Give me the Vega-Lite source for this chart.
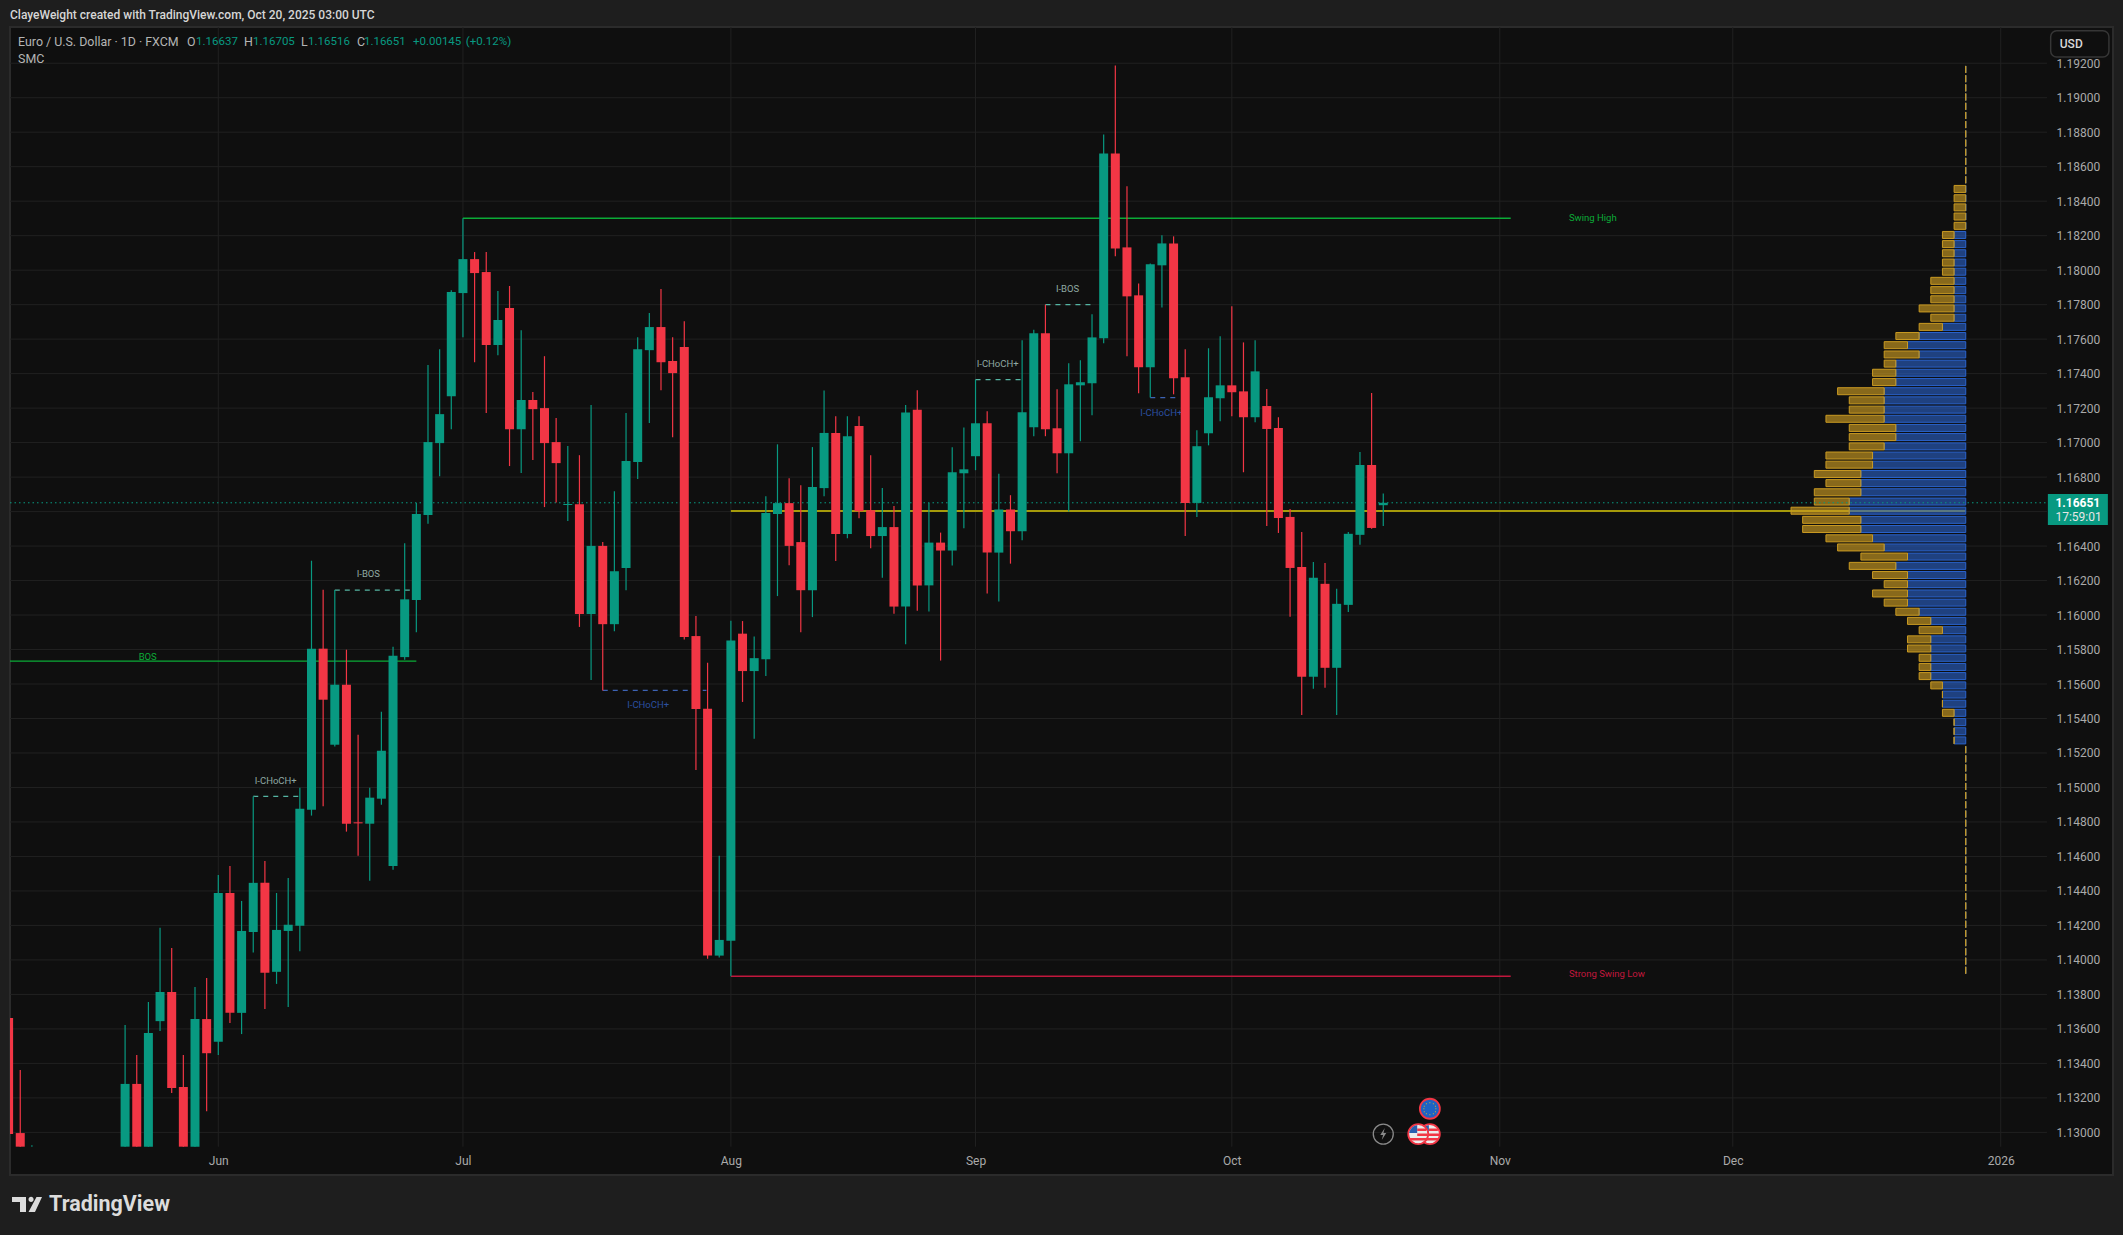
{
  "$schema": "https://vega.github.io/schema/vega-lite/v6.json",
  "autosize": "none",
  "width": 2103,
  "height": 1148,
  "padding": {"left": 10, "top": 27, "right": 10, "bottom": 60},
  "background": "#1e1e1e",
  "config": {
    "view": {"fill": "#0f0f0f", "stroke": "#2b2b2b", "strokeWidth": 2},
    "scale": {"continuousPadding": 0},
    "text": {"font": "Roboto"}
  },
  "datasets": {
    "gridPrices": [
      {"price":1.130},{"price":1.132},{"price":1.134},{"price":1.136},{"price":1.138},{"price":1.140},{"price":1.142},{"price":1.144},
      {"price":1.146},{"price":1.148},{"price":1.150},{"price":1.152},{"price":1.154},{"price":1.156},{"price":1.158},{"price":1.160},
      {"price":1.162},{"price":1.164},{"price":1.166},{"price":1.168},{"price":1.170},{"price":1.172},{"price":1.174},{"price":1.176},
      {"price":1.178},{"price":1.180},{"price":1.182},{"price":1.184},{"price":1.186},{"price":1.188},{"price":1.190},{"price":1.192}
    ],
    "gridBars": [{"bar":0},{"bar":21},{"bar":44},{"bar":65},{"bar":87},{"bar":110},{"bar":130},{"bar":153}],
    "candles": [
      {"bar":-18,"open":1.13663,"high":1.13663,"low":1.1299,"close":1.1299,"tone":"down"},
      {"bar":-17,"open":1.12996,"high":1.13362,"low":1.12917,"close":1.12917,"tone":"down"},
      {"bar":-16,"open":1.12917,"high":1.12925,"low":1.12917,"close":1.12917,"tone":"up"},
      {"bar":-8,"open":1.12917,"high":1.13622,"low":1.12917,"close":1.13281,"tone":"up"},
      {"bar":-7,"open":1.13281,"high":1.13449,"low":1.12917,"close":1.12917,"tone":"down"},
      {"bar":-6,"open":1.12917,"high":1.13756,"low":1.12917,"close":1.13576,"tone":"up"},
      {"bar":-5,"open":1.13645,"high":1.14186,"low":1.13588,"close":1.13814,"tone":"up"},
      {"bar":-4,"open":1.13814,"high":1.14069,"low":1.13228,"close":1.13257,"tone":"down"},
      {"bar":-3,"open":1.13263,"high":1.13449,"low":1.12917,"close":1.12917,"tone":"down"},
      {"bar":-2,"open":1.12917,"high":1.13843,"low":1.12917,"close":1.13657,"tone":"up"},
      {"bar":-1,"open":1.13657,"high":1.13895,"low":1.13123,"close":1.13459,"tone":"down"},
      {"bar":0,"open":1.13525,"high":1.14493,"low":1.13449,"close":1.14388,"tone":"up"},
      {"bar":1,"open":1.14388,"high":1.14544,"low":1.13634,"close":1.13693,"tone":"down"},
      {"bar":2,"open":1.13693,"high":1.14342,"low":1.1357,"close":1.14168,"tone":"up"},
      {"bar":3,"open":1.14162,"high":1.14948,"low":1.14043,"close":1.14447,"tone":"up"},
      {"bar":4,"open":1.14447,"high":1.14574,"low":1.13715,"close":1.13925,"tone":"down"},
      {"bar":5,"open":1.13931,"high":1.14388,"low":1.13861,"close":1.14174,"tone":"up"},
      {"bar":6,"open":1.14168,"high":1.14475,"low":1.13727,"close":1.14204,"tone":"up"},
      {"bar":7,"open":1.14198,"high":1.14998,"low":1.14051,"close":1.14877,"tone":"up"},
      {"bar":8,"open":1.14871,"high":1.16315,"low":1.14837,"close":1.15805,"tone":"up"},
      {"bar":9,"open":1.15805,"high":1.16147,"low":1.14891,"close":1.15509,"tone":"down"},
      {"bar":10,"open":1.15248,"high":1.16145,"low":1.15237,"close":1.15596,"tone":"up"},
      {"bar":11,"open":1.15596,"high":1.15799,"low":1.14744,"close":1.1479,"tone":"down"},
      {"bar":12,"open":1.14798,"high":1.15306,"low":1.14604,"close":1.14792,"tone":"down"},
      {"bar":13,"open":1.1479,"high":1.14999,"low":1.14459,"close":1.14941,"tone":"up"},
      {"bar":14,"open":1.14935,"high":1.15439,"low":1.149,"close":1.15213,"tone":"up"},
      {"bar":15,"open":1.14544,"high":1.15816,"low":1.14523,"close":1.15764,"tone":"up"},
      {"bar":16,"open":1.15756,"high":1.16417,"low":1.15741,"close":1.16091,"tone":"up"},
      {"bar":17,"open":1.16087,"high":1.16649,"low":1.159,"close":1.16586,"tone":"up"},
      {"bar":18,"open":1.1658,"high":1.1745,"low":1.16529,"close":1.17003,"tone":"up"},
      {"bar":19,"open":1.16997,"high":1.17542,"low":1.16805,"close":1.17165,"tone":"up"},
      {"bar":20,"open":1.17269,"high":1.17883,"low":1.17078,"close":1.17873,"tone":"up"},
      {"bar":21,"open":1.17867,"high":1.18301,"low":1.17611,"close":1.18064,"tone":"up"},
      {"bar":22,"open":1.18064,"high":1.18105,"low":1.17466,"close":1.17983,"tone":"down"},
      {"bar":23,"open":1.17989,"high":1.18105,"low":1.17172,"close":1.17566,"tone":"down"},
      {"bar":24,"open":1.17566,"high":1.17879,"low":1.17507,"close":1.17711,"tone":"up"},
      {"bar":25,"open":1.1778,"high":1.17908,"low":1.16864,"close":1.17078,"tone":"down"},
      {"bar":26,"open":1.17078,"high":1.17652,"low":1.16824,"close":1.17247,"tone":"up"},
      {"bar":27,"open":1.17247,"high":1.17294,"low":1.16899,"close":1.17194,"tone":"down"},
      {"bar":28,"open":1.172,"high":1.17501,"low":1.16626,"close":1.16997,"tone":"down"},
      {"bar":29,"open":1.17003,"high":1.17143,"low":1.16653,"close":1.16881,"tone":"down"},
      {"bar":30,"open":1.16638,"high":1.1698,"low":1.16545,"close":1.16644,"tone":"up"},
      {"bar":31,"open":1.16643,"high":1.16927,"low":1.15931,"close":1.16006,"tone":"down"},
      {"bar":32,"open":1.16006,"high":1.17218,"low":1.15624,"close":1.16401,"tone":"up"},
      {"bar":33,"open":1.16401,"high":1.16423,"low":1.15563,"close":1.15947,"tone":"down"},
      {"bar":34,"open":1.15947,"high":1.16718,"low":1.15906,"close":1.16254,"tone":"up"},
      {"bar":35,"open":1.16273,"high":1.17172,"low":1.16144,"close":1.16893,"tone":"up"},
      {"bar":36,"open":1.16887,"high":1.17611,"low":1.16789,"close":1.17542,"tone":"up"},
      {"bar":37,"open":1.17536,"high":1.17751,"low":1.17113,"close":1.1767,"tone":"up"},
      {"bar":38,"open":1.1767,"high":1.1789,"low":1.17304,"close":1.17466,"tone":"down"},
      {"bar":39,"open":1.17473,"high":1.17611,"low":1.17031,"close":1.17403,"tone":"down"},
      {"bar":40,"open":1.17554,"high":1.17704,"low":1.15858,"close":1.15872,"tone":"down"},
      {"bar":41,"open":1.15878,"high":1.15994,"low":1.15101,"close":1.15455,"tone":"down"},
      {"bar":42,"open":1.15457,"high":1.15723,"low":1.14007,"close":1.14025,"tone":"down"},
      {"bar":43,"open":1.14025,"high":1.14604,"low":1.14014,"close":1.14116,"tone":"up"},
      {"bar":44,"open":1.14111,"high":1.15967,"low":1.13905,"close":1.15852,"tone":"up"},
      {"bar":45,"open":1.15892,"high":1.15965,"low":1.15496,"close":1.15675,"tone":"down"},
      {"bar":46,"open":1.15675,"high":1.15876,"low":1.15282,"close":1.1575,"tone":"up"},
      {"bar":47,"open":1.15744,"high":1.16689,"low":1.15646,"close":1.16592,"tone":"up"},
      {"bar":48,"open":1.16586,"high":1.1699,"low":1.1611,"close":1.16649,"tone":"up"},
      {"bar":49,"open":1.16649,"high":1.16793,"low":1.16289,"close":1.16401,"tone":"down"},
      {"bar":50,"open":1.16423,"high":1.16753,"low":1.159,"close":1.16144,"tone":"down"},
      {"bar":51,"open":1.16144,"high":1.16974,"low":1.15988,"close":1.16742,"tone":"up"},
      {"bar":52,"open":1.16736,"high":1.17302,"low":1.16689,"close":1.17056,"tone":"up"},
      {"bar":53,"open":1.17056,"high":1.17153,"low":1.16313,"close":1.1647,"tone":"down"},
      {"bar":54,"open":1.1647,"high":1.17153,"low":1.16445,"close":1.17037,"tone":"up"},
      {"bar":55,"open":1.17096,"high":1.17153,"low":1.16561,"close":1.16602,"tone":"down"},
      {"bar":56,"open":1.16608,"high":1.16927,"low":1.16388,"close":1.16458,"tone":"down"},
      {"bar":57,"open":1.16458,"high":1.16736,"low":1.16216,"close":1.1651,"tone":"up"},
      {"bar":58,"open":1.1651,"high":1.16633,"low":1.16007,"close":1.16049,"tone":"down"},
      {"bar":59,"open":1.16049,"high":1.17218,"low":1.1583,"close":1.17175,"tone":"up"},
      {"bar":60,"open":1.1719,"high":1.17304,"low":1.16025,"close":1.16172,"tone":"down"},
      {"bar":61,"open":1.16172,"high":1.16649,"low":1.16021,"close":1.1642,"tone":"up"},
      {"bar":62,"open":1.1642,"high":1.16478,"low":1.15736,"close":1.16374,"tone":"down"},
      {"bar":63,"open":1.16374,"high":1.16973,"low":1.16287,"close":1.16828,"tone":"up"},
      {"bar":64,"open":1.16822,"high":1.17087,"low":1.16503,"close":1.16845,"tone":"up"},
      {"bar":65,"open":1.16921,"high":1.17365,"low":1.1684,"close":1.17112,"tone":"up"},
      {"bar":66,"open":1.17112,"high":1.17182,"low":1.16125,"close":1.16362,"tone":"down"},
      {"bar":67,"open":1.16362,"high":1.1682,"low":1.16078,"close":1.16612,"tone":"up"},
      {"bar":68,"open":1.16612,"high":1.16695,"low":1.16298,"close":1.16486,"tone":"down"},
      {"bar":69,"open":1.16486,"high":1.17593,"low":1.16434,"close":1.17176,"tone":"up"},
      {"bar":70,"open":1.17089,"high":1.17655,"low":1.17037,"close":1.17634,"tone":"up"},
      {"bar":71,"open":1.17634,"high":1.178,"low":1.17037,"close":1.17077,"tone":"down"},
      {"bar":72,"open":1.17083,"high":1.17309,"low":1.16822,"close":1.16938,"tone":"down"},
      {"bar":73,"open":1.16938,"high":1.1746,"low":1.166,"close":1.17338,"tone":"up"},
      {"bar":74,"open":1.17332,"high":1.17477,"low":1.17008,"close":1.1735,"tone":"up"},
      {"bar":75,"open":1.17344,"high":1.17744,"low":1.17158,"close":1.1761,"tone":"up"},
      {"bar":76,"open":1.17605,"high":1.18787,"low":1.17576,"close":1.18677,"tone":"up"},
      {"bar":77,"open":1.18677,"high":1.19187,"low":1.1808,"close":1.18126,"tone":"down"},
      {"bar":78,"open":1.18132,"high":1.18486,"low":1.175,"close":1.17848,"tone":"down"},
      {"bar":79,"open":1.17854,"high":1.17923,"low":1.17286,"close":1.17437,"tone":"down"},
      {"bar":80,"open":1.17437,"high":1.18039,"low":1.17261,"close":1.18034,"tone":"up"},
      {"bar":81,"open":1.18028,"high":1.18202,"low":1.17784,"close":1.18155,"tone":"up"},
      {"bar":82,"open":1.18155,"high":1.18196,"low":1.1728,"close":1.17373,"tone":"down"},
      {"bar":83,"open":1.17379,"high":1.17541,"low":1.16459,"close":1.1665,"tone":"down"},
      {"bar":84,"open":1.1665,"high":1.17071,"low":1.16569,"close":1.16979,"tone":"up"},
      {"bar":85,"open":1.17054,"high":1.17547,"low":1.16984,"close":1.17263,"tone":"up"},
      {"bar":86,"open":1.17257,"high":1.17616,"low":1.17124,"close":1.17332,"tone":"up"},
      {"bar":87,"open":1.17332,"high":1.1779,"low":1.17153,"close":1.17292,"tone":"down"},
      {"bar":88,"open":1.17297,"high":1.17581,"low":1.16828,"close":1.17147,"tone":"down"},
      {"bar":89,"open":1.17147,"high":1.17593,"low":1.17118,"close":1.17413,"tone":"up"},
      {"bar":90,"open":1.17212,"high":1.17311,"low":1.16517,"close":1.17079,"tone":"down"},
      {"bar":91,"open":1.17085,"high":1.17147,"low":1.16476,"close":1.16563,"tone":"down"},
      {"bar":92,"open":1.16569,"high":1.16615,"low":1.1599,"close":1.16273,"tone":"down"},
      {"bar":93,"open":1.16279,"high":1.16482,"low":1.15421,"close":1.15642,"tone":"down"},
      {"bar":94,"open":1.15642,"high":1.16308,"low":1.15572,"close":1.16216,"tone":"up"},
      {"bar":95,"open":1.16181,"high":1.16302,"low":1.15578,"close":1.15694,"tone":"down"},
      {"bar":96,"open":1.15694,"high":1.16152,"low":1.15421,"close":1.16065,"tone":"up"},
      {"bar":97,"open":1.16059,"high":1.16482,"low":1.16018,"close":1.16471,"tone":"up"},
      {"bar":98,"open":1.16465,"high":1.16946,"low":1.16407,"close":1.1687,"tone":"up"},
      {"bar":99,"open":1.1687,"high":1.17288,"low":1.165,"close":1.16505,"tone":"down"},
      {"bar":100,"open":1.16637,"high":1.16705,"low":1.16516,"close":1.16651,"tone":"up"}
    ],
    "profile": [
      {"level":1.19164,"gold_left":150,"blue_left":150},{"level":1.1911,"gold_left":150,"blue_left":150},{"level":1.19057,"gold_left":150,"blue_left":150},
      {"level":1.19004,"gold_left":150,"blue_left":150},{"level":1.1895,"gold_left":150,"blue_left":150},{"level":1.18897,"gold_left":150,"blue_left":150},
      {"level":1.18844,"gold_left":150,"blue_left":150},{"level":1.1879,"gold_left":150,"blue_left":150},{"level":1.18737,"gold_left":150,"blue_left":150},
      {"level":1.18684,"gold_left":150,"blue_left":150},{"level":1.18631,"gold_left":150,"blue_left":150},{"level":1.18577,"gold_left":150,"blue_left":150},
      {"level":1.18524,"gold_left":150,"blue_left":150},{"level":1.18471,"gold_left":149,"blue_left":150},{"level":1.18417,"gold_left":149,"blue_left":150},
      {"level":1.18364,"gold_left":149,"blue_left":150},{"level":1.18311,"gold_left":149,"blue_left":150},{"level":1.18257,"gold_left":149,"blue_left":150},
      {"level":1.18204,"gold_left":148,"blue_left":149},{"level":1.18151,"gold_left":148,"blue_left":149},{"level":1.18098,"gold_left":148,"blue_left":149},
      {"level":1.18044,"gold_left":148,"blue_left":149},{"level":1.17991,"gold_left":148,"blue_left":149},{"level":1.17938,"gold_left":147,"blue_left":149},
      {"level":1.17884,"gold_left":147,"blue_left":149},{"level":1.17831,"gold_left":147,"blue_left":149},{"level":1.17778,"gold_left":146,"blue_left":149},
      {"level":1.17724,"gold_left":147,"blue_left":149},{"level":1.17671,"gold_left":146,"blue_left":148},{"level":1.17618,"gold_left":144,"blue_left":146},
      {"level":1.17565,"gold_left":143,"blue_left":145},{"level":1.17511,"gold_left":143,"blue_left":146},{"level":1.17458,"gold_left":143,"blue_left":144},
      {"level":1.17405,"gold_left":142,"blue_left":144},{"level":1.17351,"gold_left":142,"blue_left":144},{"level":1.17298,"gold_left":139,"blue_left":143},
      {"level":1.17245,"gold_left":140,"blue_left":143},{"level":1.17191,"gold_left":140,"blue_left":143},{"level":1.17138,"gold_left":138,"blue_left":143},
      {"level":1.17085,"gold_left":140,"blue_left":144},{"level":1.17032,"gold_left":140,"blue_left":144},{"level":1.16978,"gold_left":140,"blue_left":143},
      {"level":1.16925,"gold_left":138,"blue_left":142},{"level":1.16872,"gold_left":138,"blue_left":142},{"level":1.16818,"gold_left":137,"blue_left":141},
      {"level":1.16765,"gold_left":138,"blue_left":141},{"level":1.16712,"gold_left":137,"blue_left":141},{"level":1.16658,"gold_left":137,"blue_left":140},
      {"level":1.16605,"gold_left":135,"blue_left":140},{"level":1.16552,"gold_left":136,"blue_left":141},{"level":1.16499,"gold_left":136,"blue_left":141},
      {"level":1.16445,"gold_left":138,"blue_left":142},{"level":1.16392,"gold_left":139,"blue_left":143},{"level":1.16339,"gold_left":141,"blue_left":145},
      {"level":1.16285,"gold_left":140,"blue_left":144},{"level":1.16232,"gold_left":142,"blue_left":145},{"level":1.16179,"gold_left":143,"blue_left":145},
      {"level":1.16125,"gold_left":142,"blue_left":145},{"level":1.16072,"gold_left":143,"blue_left":145},{"level":1.16019,"gold_left":144,"blue_left":146},
      {"level":1.15966,"gold_left":145,"blue_left":147},{"level":1.15912,"gold_left":146,"blue_left":148},{"level":1.15859,"gold_left":145,"blue_left":147},
      {"level":1.15806,"gold_left":145,"blue_left":147},{"level":1.15752,"gold_left":146,"blue_left":147},{"level":1.15699,"gold_left":146,"blue_left":147},
      {"level":1.15646,"gold_left":146,"blue_left":147},{"level":1.15592,"gold_left":147,"blue_left":148},{"level":1.15539,"gold_left":148,"blue_left":148},
      {"level":1.15486,"gold_left":148,"blue_left":148},{"level":1.15433,"gold_left":148,"blue_left":149},{"level":1.15379,"gold_left":149,"blue_left":149},
      {"level":1.15326,"gold_left":149,"blue_left":149},{"level":1.15273,"gold_left":149,"blue_left":149},{"level":1.15219,"gold_left":150,"blue_left":150},
      {"level":1.15166,"gold_left":150,"blue_left":150},{"level":1.15113,"gold_left":150,"blue_left":150},{"level":1.15059,"gold_left":150,"blue_left":150},
      {"level":1.15006,"gold_left":150,"blue_left":150},{"level":1.14953,"gold_left":150,"blue_left":150},{"level":1.149,"gold_left":150,"blue_left":150},
      {"level":1.14846,"gold_left":150,"blue_left":150},{"level":1.14793,"gold_left":150,"blue_left":150},{"level":1.1474,"gold_left":150,"blue_left":150},
      {"level":1.14686,"gold_left":150,"blue_left":150},{"level":1.14633,"gold_left":150,"blue_left":150},{"level":1.1458,"gold_left":150,"blue_left":150},
      {"level":1.14526,"gold_left":150,"blue_left":150},{"level":1.14473,"gold_left":150,"blue_left":150},{"level":1.1442,"gold_left":150,"blue_left":150},
      {"level":1.14367,"gold_left":150,"blue_left":150},{"level":1.14313,"gold_left":150,"blue_left":150},{"level":1.1426,"gold_left":150,"blue_left":150},
      {"level":1.14207,"gold_left":150,"blue_left":150},{"level":1.14153,"gold_left":150,"blue_left":150},{"level":1.141,"gold_left":150,"blue_left":150},
      {"level":1.14047,"gold_left":150,"blue_left":150},{"level":1.13993,"gold_left":150,"blue_left":150},{"level":1.1394,"gold_left":150,"blue_left":150}
    ],
    "solidLevels": [
      {"from":21,"to":110.94,"price":1.18301,"tone":"green"},
      {"from":44,"to":110.94,"price":1.13905,"tone":"crimson"},
      {"from":-17.88,"to":17,"price":1.15733,"tone":"green"}
    ],
    "dashedLevels": [
      {"from":3,"to":7.16,"price":1.14949,"tone":"teal"},
      {"from":10,"to":16.9,"price":1.16145,"tone":"teal"},
      {"from":33,"to":41.9,"price":1.15563,"tone":"blue"},
      {"from":65,"to":69.15,"price":1.17365,"tone":"teal"},
      {"from":71,"to":75.17,"price":1.178,"tone":"teal"},
      {"from":80,"to":82.27,"price":1.17261,"tone":"blue"}
    ],
    "centerNotes": [
      {"bar":-6.06,"price":1.15758,"label":"BOS","tone":"green"},
      {"bar":4.93,"price":1.15039,"label":"I-CHoCH+","tone":"grey"},
      {"bar":12.88,"price":1.16236,"label":"I-BOS","tone":"grey"},
      {"bar":36.9,"price":1.15476,"label":"I-CHoCH+","tone":"navy"},
      {"bar":66.9,"price":1.17454,"label":"I-CHoCH+","tone":"grey"},
      {"bar":72.9,"price":1.17892,"label":"I-BOS","tone":"grey"},
      {"bar":80.95,"price":1.17173,"label":"I-CHoCH+","tone":"navy"}
    ],
    "leftNotes": [
      {"bar":115.94,"price":1.18302,"label":"Swing High","tone":"green"},
      {"bar":115.94,"price":1.13921,"label":"Strong Swing Low","tone":"crimson"}
    ],
    "legendGrey": [
      {"bar":-17.19,"price":1.19323,"label":"Euro / U.S. Dollar · 1D · FXCM"},
      {"bar":-2.69,"price":1.19323,"label":"O"},
      {"bar":2.21,"price":1.19323,"label":"H"},
      {"bar":7.1,"price":1.19323,"label":"L"},
      {"bar":11.9,"price":1.19323,"label":"C"},
      {"bar":-17.19,"price":1.19224,"label":"SMC"}
    ],
    "legendTeal": [
      {"bar":-1.91,"price":1.19323,"label":"1.16637"},
      {"bar":2.98,"price":1.19323,"label":"1.16705"},
      {"bar":7.71,"price":1.19323,"label":"1.16516"},
      {"bar":12.5,"price":1.19323,"label":"1.16651"},
      {"bar":16.71,"price":1.19323,"label":"+0.00145"},
      {"bar":21.25,"price":1.19323,"label":"(+0.12%)"}
    ]
  },
  "layer": [
    {
      "data": {"name": "gridPrices"},
      "mark": {"type": "rule", "color": "#212121", "strokeWidth": 1},
      "encoding": {
        "x": {"datum": -17.88, "type": "quantitative", "title": null,
          "scale": {"domain": [-17.88, 162.64], "nice": false, "zero": false},
          "axis": {"orient": "bottom", "offset": -28, "domain": false, "ticks": false, "grid": false, "title": null,
            "values": [0, 21, 44, 65, 87, 110, 130, 153], "format": "d", "labelOverlap": false, "labelBound": false, "labelFlush": false,
            "labelExpr": "{'0':'Jun','21':'Jul','44':'Aug','65':'Sep','87':'Oct','110':'Nov','130':'Dec','153':'2026'}[datum.label]",
            "labelColor": "#aaaaaa", "labelFont": "Roboto", "labelFontSize": 12, "labelPadding": 8}},
        "x2": {"datum": 156.97},
        "y": {"field": "price", "type": "quantitative", "title": null,
          "scale": {"domain": [1.127528, 1.1941], "nice": false, "zero": false},
          "axis": {"orient": "right", "offset": -66, "domain": false, "ticks": false, "grid": false, "title": null, "tickCount": 40,
            "values": [1.13,1.132,1.134,1.136,1.138,1.14,1.142,1.144,1.146,1.148,1.15,1.152,1.154,1.156,1.158,1.16,1.162,1.164,1.168,1.17,1.172,1.174,1.176,1.178,1.18,1.182,1.184,1.186,1.188,1.19,1.192],
            "format": ".5f", "labelOverlap": false, "labelBound": false, "labelFlush": false,
            "labelColor": "#aaaaaa", "labelFont": "Roboto", "labelFontSize": 12, "labelPadding": 9}}
      }
    },
    {
      "data": {"name": "gridBars"},
      "mark": {"type": "rule", "color": "#212121", "strokeWidth": 1},
      "encoding": {
        "x": {"field": "bar", "type": "quantitative"},
        "y": {"datum": 1.12917, "type": "quantitative"},
        "y2": {"datum": 1.1941}
      }
    },
    {
      "data": {"name": "centerNotes"},
      "mark": {"type": "text", "align": "center", "baseline": "middle", "fontSize": 9.5},
      "encoding": {
        "x": {"field": "bar", "type": "quantitative"},
        "y": {"field": "price", "type": "quantitative"},
        "text": {"field": "label"},
        "color": {"field": "tone", "type": "nominal", "legend": null,
          "scale": {"domain": ["up","down","green","crimson","teal","blue","grey","navy"], "range": ["#089981","#f23645","#0bab37","#c2173d","#55b5a3","#3d63b5","#8fa9a3","#2b4fa0"]}}
      }
    },
    {
      "data": {"name": "leftNotes"},
      "mark": {"type": "text", "align": "left", "baseline": "middle", "fontSize": 9.5},
      "encoding": {
        "x": {"field": "bar", "type": "quantitative"},
        "y": {"field": "price", "type": "quantitative"},
        "text": {"field": "label"},
        "color": {"field": "tone", "type": "nominal", "legend": null}
      }
    },
    {
      "data": {"values": [{"from": 44, "to": 150, "price": 1.16603}]},
      "mark": {"type": "rule", "color": "#a59a0a", "strokeWidth": 2},
      "encoding": {
        "x": {"field": "from", "type": "quantitative"},
        "x2": {"field": "to"},
        "y": {"field": "price", "type": "quantitative"}
      }
    },
    {
      "data": {"name": "solidLevels"},
      "mark": {"type": "rule", "strokeWidth": 1.4},
      "encoding": {
        "x": {"field": "from", "type": "quantitative"},
        "x2": {"field": "to"},
        "y": {"field": "price", "type": "quantitative"},
        "color": {"field": "tone", "type": "nominal", "legend": null}
      }
    },
    {
      "data": {"name": "dashedLevels"},
      "mark": {"type": "rule", "strokeWidth": 1.2, "strokeDash": [5, 5]},
      "encoding": {
        "x": {"field": "from", "type": "quantitative"},
        "x2": {"field": "to"},
        "y": {"field": "price", "type": "quantitative"},
        "color": {"field": "tone", "type": "nominal", "legend": null}
      }
    },
    {
      "data": {"name": "profile"},
      "mark": {"type": "bar", "orient": "horizontal", "size": 7, "color": "#2a63cc", "fillOpacity": 0.6, "stroke": "#2a63cc", "strokeWidth": 1},
      "encoding": {
        "x": {"field": "blue_left", "type": "quantitative"},
        "x2": {"datum": 150},
        "y": {"field": "level", "type": "quantitative"}
      }
    },
    {
      "data": {"name": "profile"},
      "mark": {"type": "bar", "orient": "horizontal", "size": 7, "color": "#c99a22", "fillOpacity": 0.65, "stroke": "#c99a22", "strokeWidth": 1},
      "encoding": {
        "x": {"field": "gold_left", "type": "quantitative"},
        "x2": {"field": "blue_left"},
        "y": {"field": "level", "type": "quantitative"}
      }
    },
    {
      "data": {"values": [{"from": -17.88, "to": 156.97, "price": 1.16651}]},
      "mark": {"type": "rule", "color": "#089981", "strokeWidth": 1, "strokeDash": [1.5, 3]},
      "encoding": {
        "x": {"field": "from", "type": "quantitative"},
        "x2": {"field": "to"},
        "y": {"field": "price", "type": "quantitative"}
      }
    },
    {
      "data": {"name": "candles"},
      "mark": {"type": "rule", "clip": true, "strokeWidth": 1.2},
      "encoding": {
        "x": {"field": "bar", "type": "quantitative"},
        "y": {"field": "low", "type": "quantitative"},
        "y2": {"field": "high"},
        "color": {"field": "tone", "type": "nominal", "legend": null}
      }
    },
    {
      "data": {"name": "candles"},
      "mark": {"type": "bar", "orient": "vertical", "size": 9, "clip": true},
      "encoding": {
        "x": {"field": "bar", "type": "quantitative"},
        "y": {"field": "open", "type": "quantitative"},
        "y2": {"field": "close"},
        "color": {"field": "tone", "type": "nominal", "legend": null}
      }
    },
    {
      "data": {"values": [{"from": 157.05, "to": 162.2, "top": 1.167019, "bottom": 1.165221}]},
      "mark": {"type": "rect", "color": "#089981"},
      "encoding": {
        "x": {"field": "from", "type": "quantitative"},
        "x2": {"field": "to"},
        "y": {"field": "top", "type": "quantitative"},
        "y2": {"field": "bottom"}
      }
    },
    {
      "data": {"values": [{"from": 157.29, "to": 162.29, "top": 1.193885, "bottom": 1.19236}]},
      "mark": {"type": "rect", "fill": "#0f0f0f", "stroke": "#363636", "strokeWidth": 1.5, "cornerRadius": 6},
      "encoding": {
        "x": {"field": "from", "type": "quantitative"},
        "x2": {"field": "to"},
        "y": {"field": "top", "type": "quantitative"},
        "y2": {"field": "bottom"}
      }
    },
    {
      "data": {"values": [{"bar": 158.07, "price": 1.1931, "label": "USD"}]},
      "mark": {"type": "text", "align": "left", "baseline": "middle", "fontSize": 12, "fontWeight": 500, "color": "#d8d8d8"},
      "encoding": {
        "x": {"field": "bar", "type": "quantitative"},
        "y": {"field": "price", "type": "quantitative"},
        "text": {"field": "label"}
      }
    },
    {
      "data": {"values": [{"bar": 157.7, "price": 1.16651, "label": "1.16651"}]},
      "mark": {"type": "text", "align": "left", "baseline": "middle", "fontSize": 12, "fontWeight": "bold", "color": "#ffffff"},
      "encoding": {
        "x": {"field": "bar", "type": "quantitative"},
        "y": {"field": "price", "type": "quantitative"},
        "text": {"field": "label"}
      }
    },
    {
      "data": {"values": [{"bar": 157.7, "price": 1.1657, "label": "17:59:01"}]},
      "mark": {"type": "text", "align": "left", "baseline": "middle", "fontSize": 12, "color": "#e6e6e6"},
      "encoding": {
        "x": {"field": "bar", "type": "quantitative"},
        "y": {"field": "price", "type": "quantitative"},
        "text": {"field": "label"}
      }
    },
    {
      "data": {"name": "legendGrey"},
      "mark": {"type": "text", "align": "left", "baseline": "middle", "fontSize": 12.4, "color": "#b5b5b5"},
      "encoding": {
        "x": {"field": "bar", "type": "quantitative"},
        "y": {"field": "price", "type": "quantitative"},
        "text": {"field": "label"}
      }
    },
    {
      "data": {"name": "legendTeal"},
      "mark": {"type": "text", "align": "left", "baseline": "middle", "fontSize": 11.5, "color": "#089981"},
      "encoding": {
        "x": {"field": "bar", "type": "quantitative"},
        "y": {"field": "price", "type": "quantitative"},
        "text": {"field": "label"}
      }
    },
    {
      "data": {"values": [{"bar": -17.88, "price": 1.1948, "label": "ClayeWeight created with TradingView.com, Oct 20, 2025 03:00 UTC"}]},
      "mark": {"type": "text", "align": "left", "baseline": "middle", "fontSize": 12, "fontWeight": 500, "color": "#d6d6d6"},
      "encoding": {
        "x": {"field": "bar", "type": "quantitative"},
        "y": {"field": "price", "type": "quantitative"},
        "text": {"field": "label"}
      }
    },
    {
      "data": {"values": [{"bar": -14.53, "price": 1.12579, "label": "TradingView"}]},
      "mark": {"type": "text", "align": "left", "baseline": "middle", "fontSize": 21.5, "fontWeight": "bold", "color": "#dcdcdc"},
      "encoding": {
        "x": {"field": "bar", "type": "quantitative"},
        "y": {"field": "price", "type": "quantitative"},
        "text": {"field": "label"}
      }
    },
    {
      "data": {"values": [{"bar": -16.42, "price": 1.12579}]},
      "mark": {"type": "point", "filled": true, "color": "#dcdcdc", "opacity": 1, "size": 900,
        "shape": "M-1,-.533 L-.067,-.533 L-.067,.467 L-.467,.467 L-.467,-.2 L-1,-.2 Z M.1,-.37 a.17,.17 0 1,0 .34,0 a.17,.17 0 1,0 -.34,0 Z M.633,-.533 L1,-.533 L.533,.467 L.1,.467 Z"},
      "encoding": {
        "x": {"field": "bar", "type": "quantitative"},
        "y": {"field": "price", "type": "quantitative"}
      }
    },
    {
      "data": {"values": [{"bar": 100, "price": 1.1299}]},
      "mark": {"type": "point", "filled": false, "shape": "circle", "size": 400, "color": "#8a8a8a", "opacity": 1, "strokeWidth": 1.3},
      "encoding": {"x": {"field": "bar", "type": "quantitative"}, "y": {"field": "price", "type": "quantitative"}}
    },
    {
      "data": {"values": [{"bar": 100, "price": 1.1299}]},
      "mark": {"type": "point", "filled": true, "size": 400, "color": "#8a8a8a", "opacity": 1, "shape": "M.15,-.6 L-.3,.1 L-.02,.1 L-.15,.6 L.3,-.1 L.02,-.1 Z"},
      "encoding": {"x": {"field": "bar", "type": "quantitative"}, "y": {"field": "price", "type": "quantitative"}}
    },
    {
      "data": {"values": [{"bar": 104, "price": 1.13137}]},
      "mark": {"type": "point", "filled": true, "shape": "circle", "size": 400, "fill": "#1e63c4", "stroke": "#f23645", "strokeWidth": 1.8, "opacity": 1},
      "encoding": {"x": {"field": "bar", "type": "quantitative"}, "y": {"field": "price", "type": "quantitative"}}
    },
    {
      "data": {"values": [{"bar": 104, "price": 1.13137}]},
      "mark": {"type": "point", "filled": true, "size": 400, "color": "#d4b130", "opacity": 1,
        "shape": "M-.05,-.65 h.1 v.1 h-.1 Z M.3,-.56 h.1 v.1 h-.1 Z M.51,-.3 h.1 v.1 h-.1 Z M.55,-.05 h.1 v.1 h-.1 Z M.51,.25 h.1 v.1 h-.1 Z M.3,.46 h.1 v.1 h-.1 Z M-.05,.55 h.1 v.1 h-.1 Z M-.4,.46 h.1 v.1 h-.1 Z M-.61,.25 h.1 v.1 h-.1 Z M-.65,-.05 h.1 v.1 h-.1 Z M-.61,-.3 h.1 v.1 h-.1 Z M-.4,-.56 h.1 v.1 h-.1 Z"},
      "encoding": {"x": {"field": "bar", "type": "quantitative"}, "y": {"field": "price", "type": "quantitative"}}
    },
    {
      "data": {"values": [{"bar": 104, "price": 1.1299}]},
      "mark": {"type": "point", "filled": true, "shape": "circle", "size": 400, "fill": "#ececec", "stroke": "#f23645", "strokeWidth": 1.8, "opacity": 1},
      "encoding": {"x": {"field": "bar", "type": "quantitative"}, "y": {"field": "price", "type": "quantitative"}}
    },
    {
      "data": {"values": [{"bar": 104, "price": 1.1299}]},
      "mark": {"type": "point", "filled": true, "size": 400, "color": "#f23645", "opacity": 1,
        "shape": "M-.1,-.55 L.8,-.55 L.8,-.3 L-.1,-.3 Z M-.1,-.05 L.95,-.05 L.95,.2 L-.1,.2 Z M-.85,.4 L.85,.4 L.85,.65 L-.85,.65 Z"},
      "encoding": {"x": {"field": "bar", "type": "quantitative"}, "y": {"field": "price", "type": "quantitative"}}
    },
    {
      "data": {"values": [{"bar": 104, "price": 1.1299}]},
      "mark": {"type": "point", "filled": true, "size": 400, "color": "#2a5fb0", "opacity": 1,
        "shape": "M-.9,-.1 L-.1,-.1 L-.1,-.88 A.9,.9 0 0 0 -.9,-.1 Z"},
      "encoding": {"x": {"field": "bar", "type": "quantitative"}, "y": {"field": "price", "type": "quantitative"}}
    },
    {
      "data": {"values": [{"bar": 103, "price": 1.1299}]},
      "mark": {"type": "point", "filled": true, "shape": "circle", "size": 400, "fill": "#ececec", "stroke": "#f23645", "strokeWidth": 1.8, "opacity": 1},
      "encoding": {"x": {"field": "bar", "type": "quantitative"}, "y": {"field": "price", "type": "quantitative"}}
    },
    {
      "data": {"values": [{"bar": 103, "price": 1.1299}]},
      "mark": {"type": "point", "filled": true, "size": 400, "color": "#f23645", "opacity": 1,
        "shape": "M-.1,-.55 L.8,-.55 L.8,-.3 L-.1,-.3 Z M-.1,-.05 L.95,-.05 L.95,.2 L-.1,.2 Z M-.85,.4 L.85,.4 L.85,.65 L-.85,.65 Z"},
      "encoding": {"x": {"field": "bar", "type": "quantitative"}, "y": {"field": "price", "type": "quantitative"}}
    },
    {
      "data": {"values": [{"bar": 103, "price": 1.1299}]},
      "mark": {"type": "point", "filled": true, "size": 400, "color": "#2a5fb0", "opacity": 1,
        "shape": "M-.9,-.1 L-.1,-.1 L-.1,-.88 A.9,.9 0 0 0 -.9,-.1 Z"},
      "encoding": {"x": {"field": "bar", "type": "quantitative"}, "y": {"field": "price", "type": "quantitative"}}
    }
  ]
}
